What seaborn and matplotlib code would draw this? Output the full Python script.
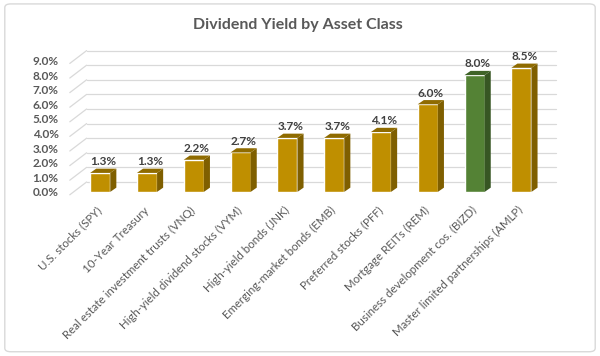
## Import Needed Libraries
from matplotlib import pyplot as plt
from matplotlib.patches import Polygon, FancyBboxPatch
import pandas as pd
import seaborn as sns

## Chart data
categories = ['U.S. stocks (SPY)', '10-Year Treasury', 'Real estate investment trusts (VNQ)',
              'High-yield dividend stocks (VYM)', 'High-yield bonds (JNK)',
              'Emerging-market bonds (EMB)', 'Preferred stocks (PFF)', 'Mortgage REITs (REM)',
              'Business development cos. (BIZD)', 'Master limited partnerships (AMLP)']
yields = [1.3, 1.3, 2.2, 2.7, 3.7, 3.7, 4.1, 6.0, 8.0, 8.5]
highlight = 'Business development cos. (BIZD)'
y_ticks = [0, 1, 2, 3, 4, 5, 6, 7, 8, 9]
y_tick_labels = ['0.0%', '1.0%', '2.0%', '3.0%', '4.0%', '5.0%', '6.0%', '7.0%', '8.0%', '9.0%']

df = pd.DataFrame({'asset': categories, 'yield': yields})

## Colours (front, side, top)
gold = ('#BF8F00', '#7F5F00', '#8F6B00')
green = ('#548235', '#375623', '#3F6328')
palette = {c: (green[0] if c == highlight else gold[0]) for c in categories}

sns.set_style('white')
plt.rcParams['font.family'] = ['Lato', 'DejaVu Sans']

fig = plt.figure(figsize=(6, 3.56), dpi=100)
ax = fig.add_axes([0.128, 0.461, 0.78, 0.369])

sns.barplot(data=df, x='asset', y='yield', hue='asset', palette=palette, width=0.43,
            saturation=1, legend=False, ax=ax, zorder=3)

## fake 3D depth
dx, dy = 0.13, 0.29
for p, cat, v in zip(ax.patches, categories, yields):
    x0, w, h = p.get_x(), p.get_width(), p.get_height()
    cols = green if cat == highlight else gold
    side = Polygon([(x0 + w, 0), (x0 + w + dx, dy), (x0 + w + dx, h + dy), (x0 + w, h)],
                   closed=True, facecolor=cols[1], edgecolor='none', zorder=3)
    top = Polygon([(x0, h), (x0 + dx, h + dy), (x0 + w + dx, h + dy), (x0 + w, h)],
                  closed=True, facecolor=cols[2], edgecolor='none', zorder=3)
    ax.add_patch(side)
    ax.add_patch(top)
    ax.text(x0 + w / 2 + dx / 2, h + dy + 0.1, f'{v:.1f}%', ha='center', va='bottom',
            fontsize=8.5, fontweight='bold', color='#404040', zorder=4)

## back wall gridlines + floor diagonals
for v in y_ticks:
    ax.plot([-0.29, 9.73], [v + 0.68, v + 0.68], color='#d9d9d9', lw=0.9, zorder=1, clip_on=False)
    ax.plot([-0.65, -0.29], [v - 0.2, v + 0.68], color='#d9d9d9', lw=0.9, zorder=1, clip_on=False)

ax.set_xlim(-0.5, 9.5)
ax.set_ylim(0, 9)
ax.set_yticks(y_ticks)
ax.set_yticklabels(y_tick_labels, fontsize=8.5, fontweight='bold', color='#595959')
ax.set_xticks(range(len(categories)))
ax.set_xticklabels(categories, rotation=45, ha='right', va='center', rotation_mode='anchor',
                   fontsize=8.3, color='#595959')
ax.tick_params(axis='y', length=0, pad=13)
ax.tick_params(axis='x', length=0, pad=12)
ax.set_xlabel('')
ax.set_ylabel('')
sns.despine(ax=ax, left=True, bottom=True)

fig.text(0.497, 0.93, 'Dividend Yield by Asset Class', ha='center', va='center',
         fontsize=11.5, fontweight='bold', color='#595959')

fig.patches.append(FancyBboxPatch((0.008, 0.012), 0.984, 0.977,
                                  boxstyle='round,pad=0,rounding_size=0.01',
                                  transform=fig.transFigure, fill=False,
                                  edgecolor='#d9d9d9', lw=1))

fig.savefig('out.png', dpi=100)
